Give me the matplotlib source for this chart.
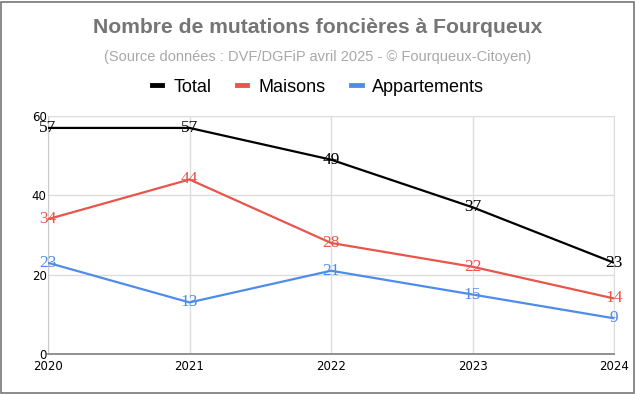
import matplotlib.pyplot as plt
import matplotlib.lines as mlines
from matplotlib.patches import Rectangle

# ── data ──────────────────────────────────────────────────────────────────────
years        = [2020, 2021, 2022, 2023, 2024]
total        = [57, 57, 49, 37, 23]
maisons      = [34, 44, 28, 22, 14]
appartements = [23, 13, 21, 15, 9]
y_ticks      = [0, 20, 40, 60]

SERIES = [
    ('Total',        total,        '#000000'),
    ('Maisons',      maisons,      '#e8554b'),
    ('Appartements', appartements, '#4f8cea'),
]

# ── figure ────────────────────────────────────────────────────────────────────
fig = plt.figure(figsize=(6.36, 3.94), dpi=100)
fig.patch.set_facecolor('white')
fig.patches.append(Rectangle((0.002, 0.003), 0.995, 0.993, transform=fig.transFigure,
                             fill=False, ec='#777777', lw=1.2))

ax = fig.add_axes([0.0755, 0.1015, 0.890, 0.604])

for name, vals, col in SERIES:
    ax.plot(years, vals, color=col, lw=1.6, zorder=3, solid_capstyle='butt')
    for x, v in zip(years, vals):
        ax.text(x, v, str(v), color=col, fontsize=12.5, family='Liberation Serif',
                ha='center', va='center', zorder=4)

ax.set_xlim(2020, 2024)
ax.set_ylim(0, 60)
ax.set_xticks(years)
ax.set_yticks(y_ticks)
ax.tick_params(length=0, labelsize=8.5, pad=4)
ax.tick_params(axis='y', pad=1)
for lbl in ax.get_xticklabels() + ax.get_yticklabels():
    lbl.set_family('DejaVu Sans')
ax.grid(color='#dddddd', lw=1.0, zorder=0)
for side in ['top', 'right']:
    ax.spines[side].set_color('#dddddd')
ax.spines['left'].set_color('#cccccc')
ax.spines['bottom'].set_color('#888888')
ax.spines['bottom'].set_linewidth(1.3)

# ── titles ────────────────────────────────────────────────────────────────────
fig.text(0.5, 0.929, 'Nombre de mutations foncières à Fourqueux', ha='center', va='center',
         fontsize=15.2, fontweight='bold', color='#757575', family='Liberation Sans')
fig.text(0.5, 0.855, '(Source données : DVF/DGFiP avril 2025 - © Fourqueux-Citoyen)',
         ha='center', va='center', fontsize=10.5, color='#a8a8a8', family='Liberation Sans')

handles = [mlines.Line2D([], [], color=col, lw=3.5, label=name) for name, _, col in SERIES]
fig.legend(handles=handles, loc='center', bbox_to_anchor=(0.5, 0.779), ncol=3,
           frameon=False, prop={'family': 'Liberation Sans', 'size': 13},
           handlelength=0.6, handletextpad=0.6, columnspacing=1.4)

fig.savefig('out.png', dpi=100, facecolor='white')
